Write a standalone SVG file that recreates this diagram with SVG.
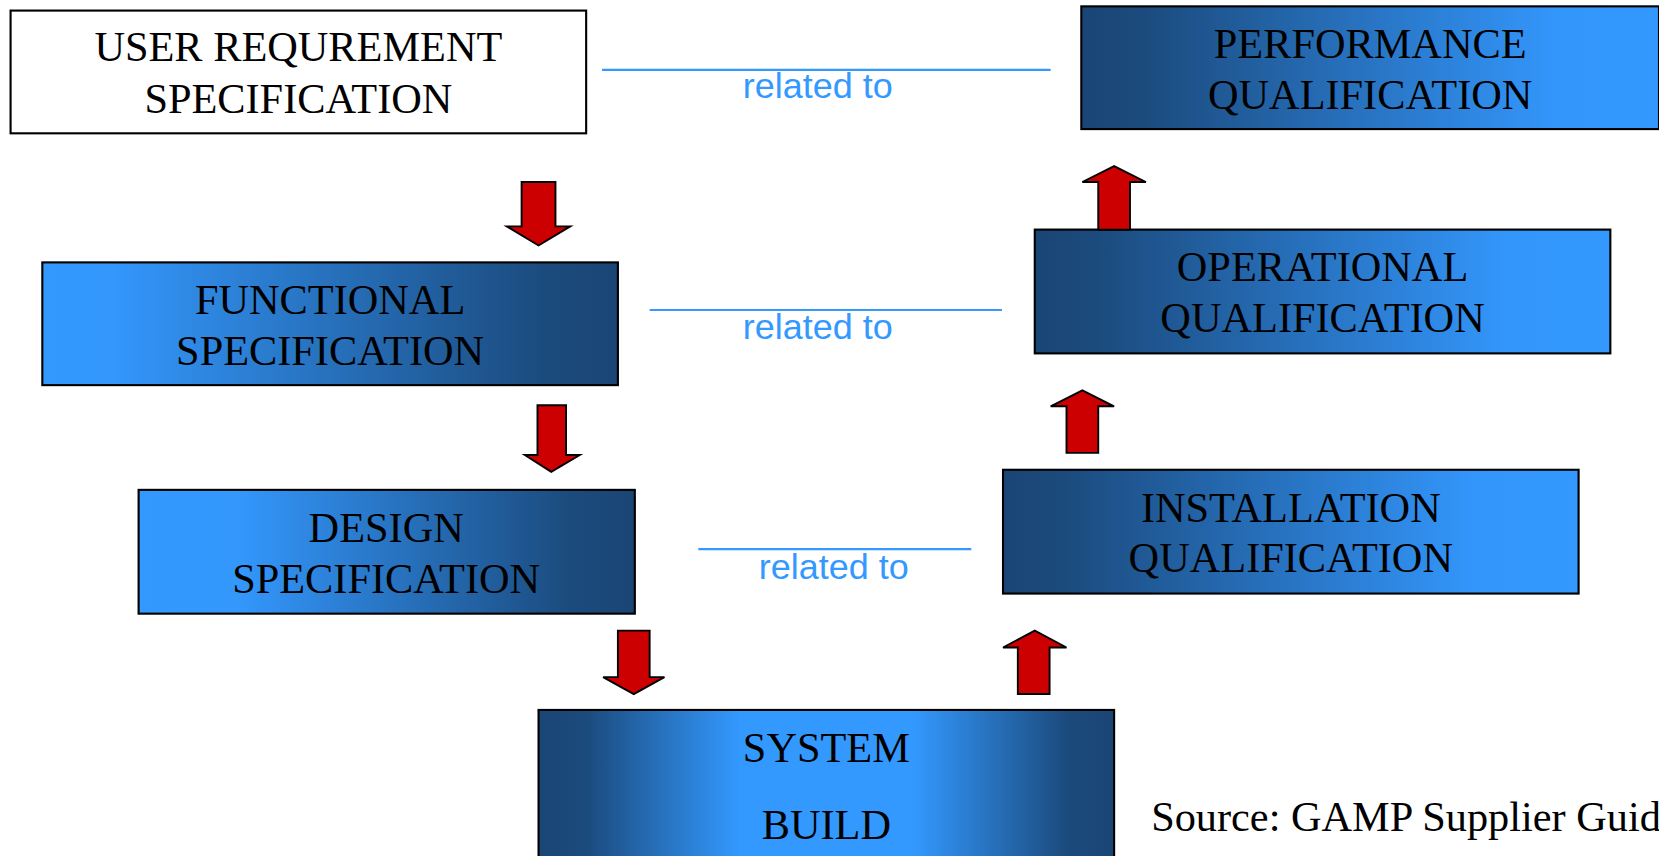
<svg xmlns="http://www.w3.org/2000/svg" width="1659" height="856" viewBox="0 0 1659 856">
<defs>
<linearGradient id="gDL" x1="0" y1="0" x2="1" y2="0">
<stop offset="0" stop-color="#1a4676"/><stop offset="0.1" stop-color="#1b4a7c"/><stop offset="0.82" stop-color="#3396fb"/><stop offset="1" stop-color="#3399ff"/>
</linearGradient>
<linearGradient id="gLD" x1="0" y1="0" x2="1" y2="0">
<stop offset="0" stop-color="#3399ff"/><stop offset="0.12" stop-color="#3397fc"/><stop offset="0.88" stop-color="#1b4a7c"/><stop offset="1" stop-color="#1a4676"/>
</linearGradient>
<linearGradient id="gLD2" x1="0" y1="0" x2="1" y2="0">
<stop offset="0" stop-color="#3399ff"/><stop offset="0.2" stop-color="#3397fc"/><stop offset="0.88" stop-color="#1b4a7c"/><stop offset="1" stop-color="#1a4676"/>
</linearGradient>
<linearGradient id="gSB" x1="0" y1="0" x2="1" y2="0">
<stop offset="0" stop-color="#1a4676"/><stop offset="0.08" stop-color="#1b4a7c"/><stop offset="0.35" stop-color="#3399ff"/><stop offset="0.65" stop-color="#3399ff"/><stop offset="0.92" stop-color="#1b4a7c"/><stop offset="1" stop-color="#1a4676"/>
</linearGradient>
</defs>
<style>
.box{stroke:#000;stroke-width:2}
.t{font-family:"Liberation Serif","Times New Roman",serif;font-size:40px;fill:#000;text-anchor:middle}
.rel{font-family:"Liberation Sans",Arial,sans-serif;font-size:34px;fill:#3399ff;text-anchor:middle}
.rl{stroke:#3399ff;stroke-width:2;fill:none}
.arr{fill:#cc0000;stroke:#000;stroke-width:1.8;stroke-linejoin:miter}
</style>
<rect x="0" y="0" width="1659" height="856" fill="#fff"/>
<g transform="scale(1.05804)">
<g id="urs">
<rect class="box" x="10" y="10" width="544" height="116" fill="#fff"/>
<text class="t" x="282" y="58">USER REQUREMENT</text>
<text class="t" x="282" y="107">SPECIFICATION</text>
</g>
<g id="pq">
<rect class="box" x="1022" y="6" width="546" height="116" fill="url(#gDL)"/>
<text class="t" x="1295" y="55">PERFORMANCE</text>
<text class="t" x="1295" y="103">QUALIFICATION</text>
</g>
<g id="fs">
<rect class="box" x="40" y="248" width="544" height="116" fill="url(#gLD)"/>
<text class="t" x="312" y="297">FUNCTIONAL</text>
<text class="t" x="312" y="345">SPECIFICATION</text>
</g>
<g id="oq">
<rect class="box" x="978" y="217" width="544" height="117" fill="url(#gDL)"/>
<text class="t" x="1250" y="266">OPERATIONAL</text>
<text class="t" x="1250" y="314">QUALIFICATION</text>
</g>
<g id="ds">
<rect class="box" x="131" y="463" width="469" height="117" fill="url(#gLD2)"/>
<text class="t" x="365" y="512">DESIGN</text>
<text class="t" x="365" y="560">SPECIFICATION</text>
</g>
<g id="iq">
<rect class="box" x="948" y="444" width="544" height="117" fill="url(#gDL)"/>
<text class="t" x="1220" y="493">INSTALLATION</text>
<text class="t" x="1220" y="541">QUALIFICATION</text>
</g>
<g id="sb">
<rect class="box" x="509" y="671" width="544" height="160" fill="url(#gSB)"/>
<text class="t" x="781" y="720">SYSTEM</text>
<text class="t" x="781" y="793">BUILD</text>
</g>
<g id="source">
<text x="1088" y="785" font-family="Liberation Serif,'Times New Roman',serif" font-size="40" fill="#000">Source: GAMP Supplier Guid</text>
</g>
<g id="connectors">
<line class="rl" x1="569" y1="66" x2="993" y2="66"/>
<text class="rel" x="773" y="93">related to</text>
<line class="rl" x1="614" y1="293" x2="947" y2="293"/>
<text class="rel" x="773" y="320">related to</text>
<line class="rl" x1="660" y1="519" x2="918" y2="519"/>
<text class="rel" x="788" y="547">related to</text>
<polygon class="arr" points="493,172 525,172 525,214 539,214 509,232 479,214 493,214"/>
<polygon class="arr" points="508,383 535,383 535,430 548,430 521,446 496,430 508,430"/>
<polygon class="arr" points="584,596 614,596 614,640 628,640 599,656 570,640 584,640"/>
<polygon class="arr" points="962,656 992,656 992,612 1008,612 978,596 948,612 962,612"/>
<polygon class="arr" points="1008,428 1038,428 1038,384 1053,384 1023,369 993,384 1008,384"/>
<polygon class="arr" points="1038,217 1068,217 1068,172 1083,172 1053,157 1023,172 1038,172"/>
</g>
</g>
</svg>
